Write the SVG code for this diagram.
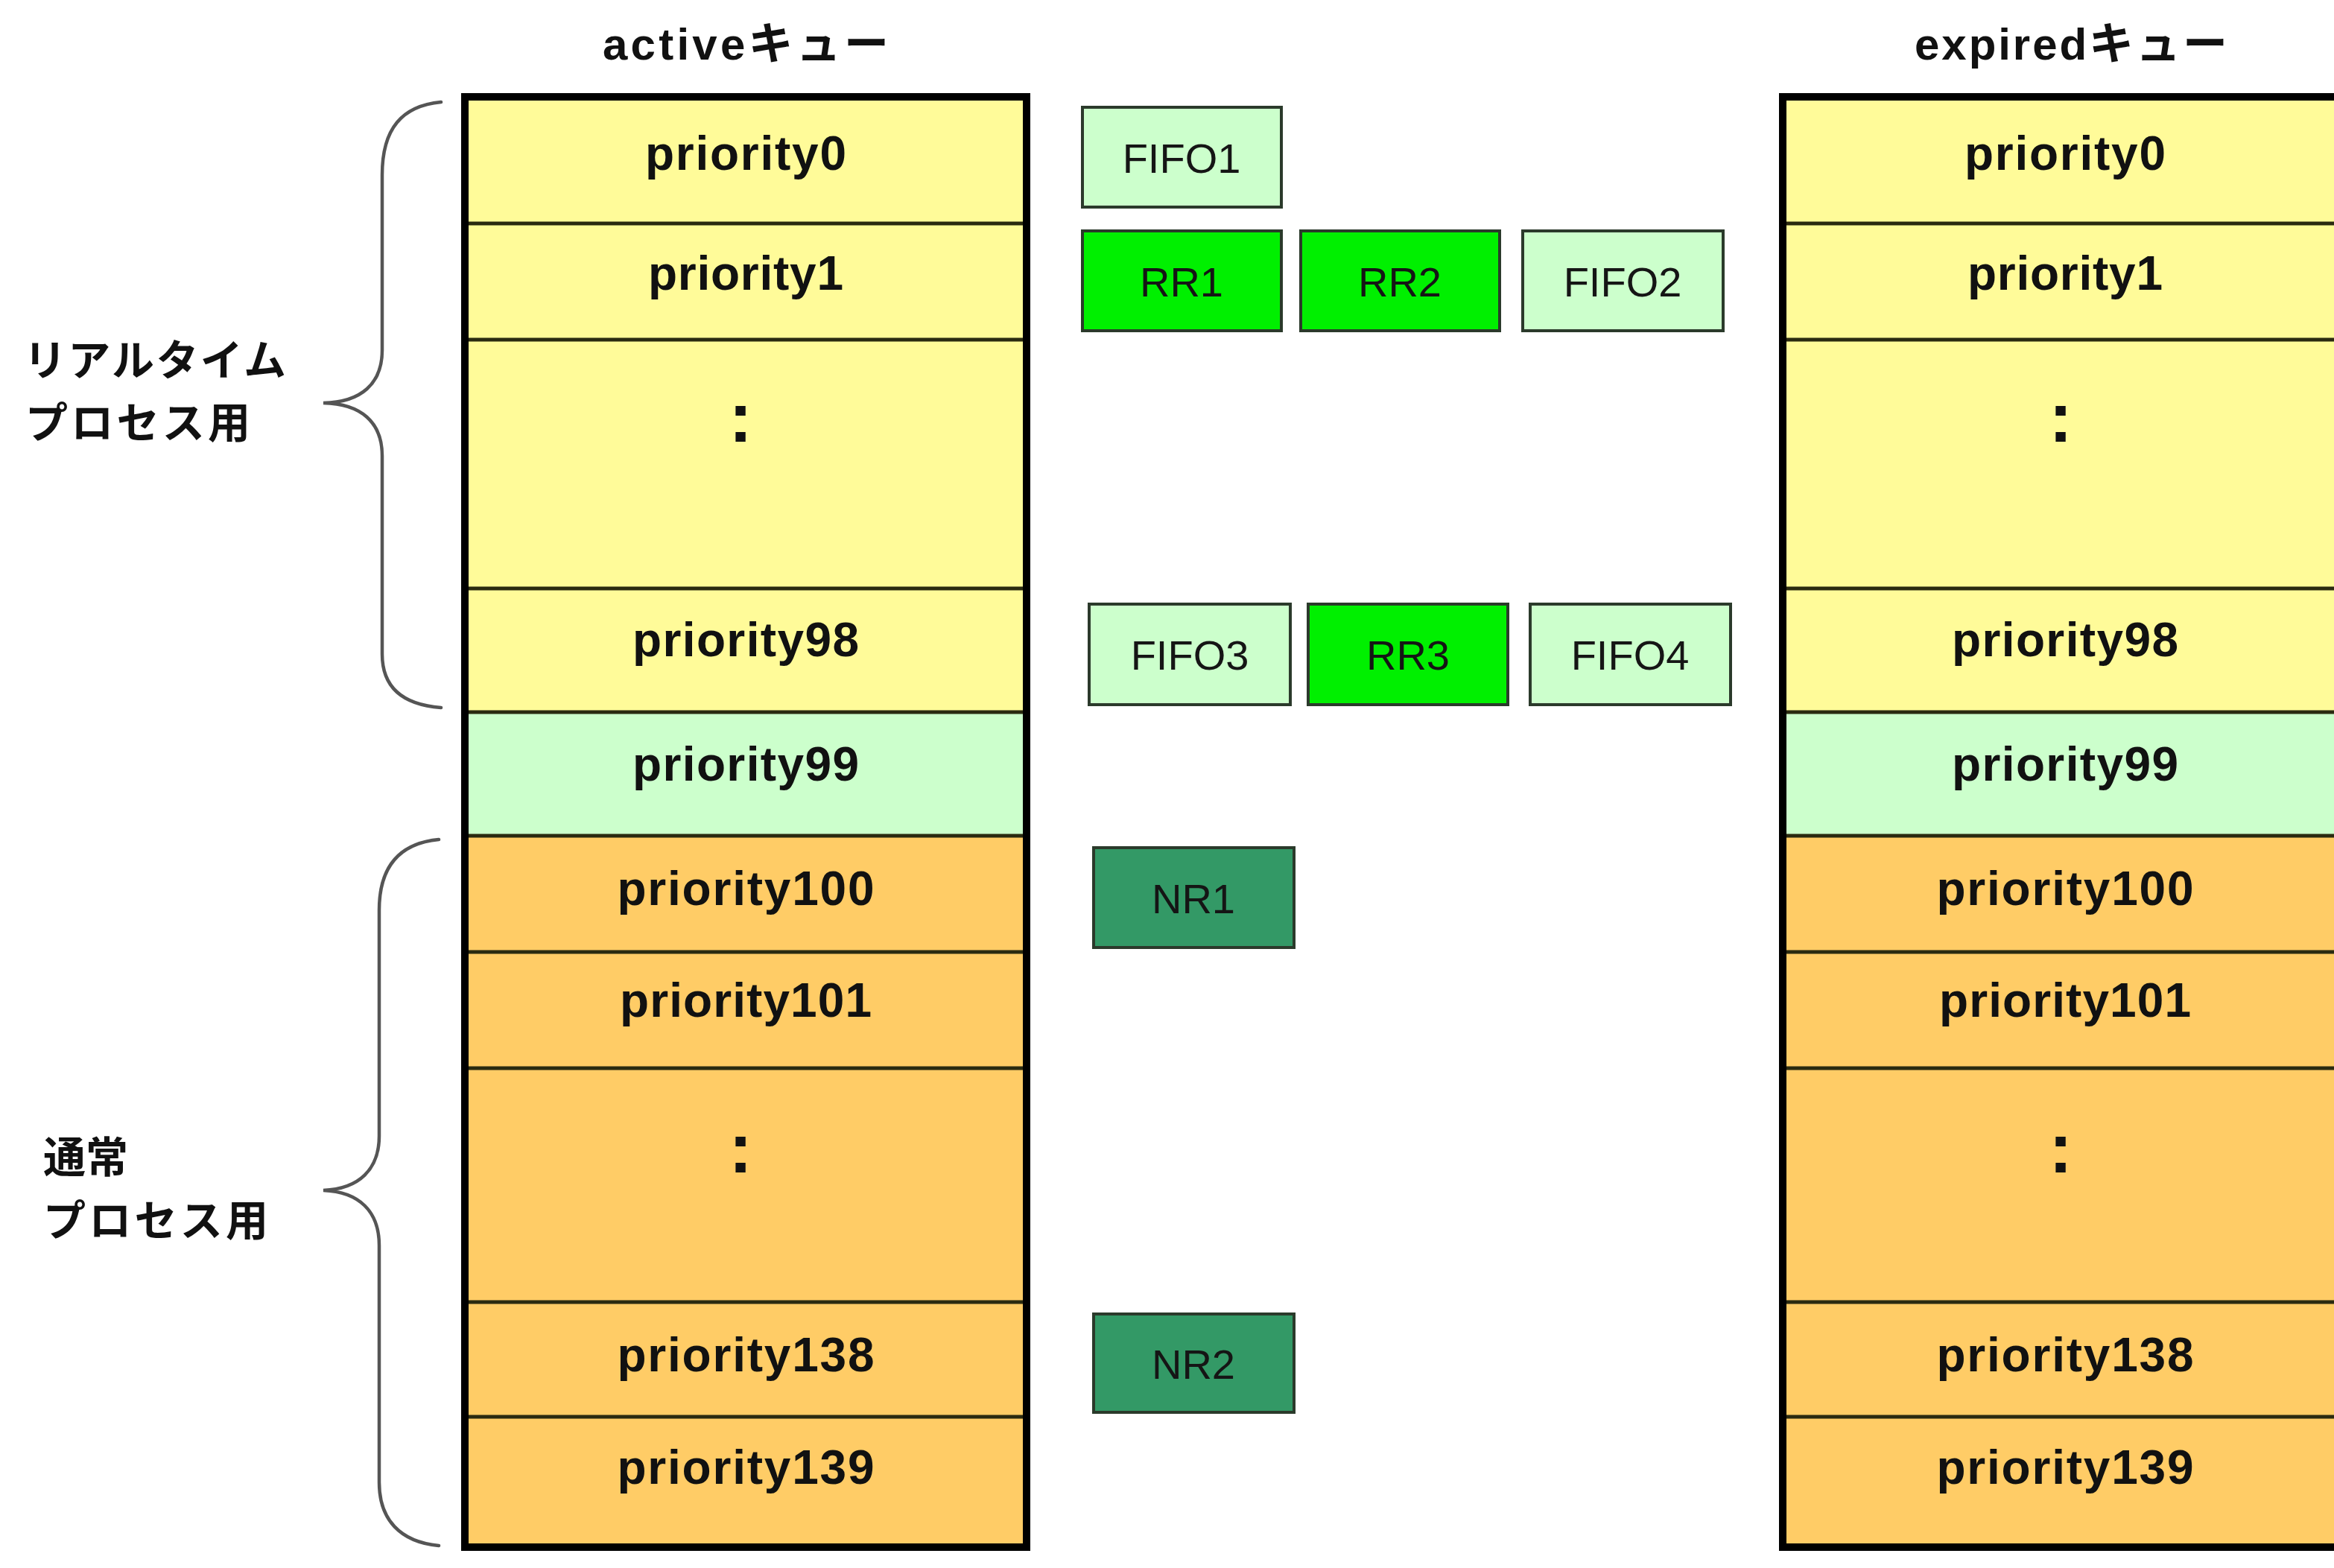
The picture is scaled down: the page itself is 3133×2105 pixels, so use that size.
<svg xmlns="http://www.w3.org/2000/svg" width="3133" height="2105" viewBox="0 0 3133 2105">
<style>
  .bg{fill:#ffffff}
  .yel{fill:#FFFB99}
  .lgr{fill:#CCFFCC}
  .org{fill:#FFCC66}
  .frame{fill:none;stroke:#000;stroke-width:10}
  .sep{stroke:#2a2a10;stroke-width:5}
  .row{font-family:"Liberation Sans","Noto Sans CJK JP",sans-serif;font-weight:bold;font-size:64px;fill:#111;text-anchor:middle}
  .dots{font-family:"Liberation Sans",sans-serif;font-weight:bold;font-size:95px;fill:#111;text-anchor:middle}
  .title{font-family:"Liberation Sans","Noto Sans CJK JP",sans-serif;font-weight:bold;font-size:60px;fill:#111;text-anchor:middle}
  .side{font-family:"Noto Sans CJK JP",sans-serif;font-weight:bold;font-size:57px;fill:#111}
  .task{stroke:#2b3a2b;stroke-width:4}
  .fifo{fill:#CCFFCC}
  .rr{fill:#00F000}
  .nr{fill:#339966}
  .tlabel{font-family:"Liberation Sans",sans-serif;font-size:56px;fill:#151515;text-anchor:middle}
  .brace{fill:none;stroke:#555;stroke-width:4.5;stroke-linecap:round}
</style>
<rect class="bg" x="0" y="0" width="3133" height="2105"/>

<g id="title-active"><text class="title" x="1001" y="80" textLength="384">activeキュー</text></g>
<g id="title-expired"><text class="title" x="2780" y="80" textLength="420">expiredキュー</text></g>

<g id="active-queue">
  <rect class="yel" x="624" y="130" width="754" height="826"/>
  <rect class="lgr" x="624" y="956" width="754" height="166"/>
  <rect class="org" x="624" y="1122" width="754" height="955"/>
  <g class="sep">
    <line x1="624" y1="300" x2="1378" y2="300"/>
    <line x1="624" y1="456" x2="1378" y2="456"/>
    <line x1="624" y1="790" x2="1378" y2="790"/>
    <line x1="624" y1="956" x2="1378" y2="956"/>
    <line x1="624" y1="1122" x2="1378" y2="1122"/>
    <line x1="624" y1="1278" x2="1378" y2="1278"/>
    <line x1="624" y1="1434" x2="1378" y2="1434"/>
    <line x1="624" y1="1748" x2="1378" y2="1748"/>
    <line x1="624" y1="1902" x2="1378" y2="1902"/>
  </g>
  <rect class="frame" x="624" y="130" width="754" height="1947"/>
  <text class="row" x="1001" y="228" textLength="270">priority0</text>
  <text class="row" x="1001" y="389" textLength="262">priority1</text>
  <text class="dots" x="994" y="593">:</text>
  <text class="row" x="1001" y="881" textLength="304">priority98</text>
  <text class="row" x="1001" y="1048" textLength="304">priority99</text>
  <text class="row" x="1001" y="1215" textLength="345">priority100</text>
  <text class="row" x="1001" y="1365" textLength="338">priority101</text>
  <text class="dots" x="994" y="1574">:</text>
  <text class="row" x="1001" y="1841" textLength="345">priority138</text>
  <text class="row" x="1001" y="1992" textLength="345">priority139</text>
</g>

<g id="expired-queue">
  <rect class="yel" x="2393" y="130" width="760" height="826"/>
  <rect class="lgr" x="2393" y="956" width="760" height="166"/>
  <rect class="org" x="2393" y="1122" width="760" height="955"/>
  <g class="sep">
    <line x1="2393" y1="300" x2="3133" y2="300"/>
    <line x1="2393" y1="456" x2="3133" y2="456"/>
    <line x1="2393" y1="790" x2="3133" y2="790"/>
    <line x1="2393" y1="956" x2="3133" y2="956"/>
    <line x1="2393" y1="1122" x2="3133" y2="1122"/>
    <line x1="2393" y1="1278" x2="3133" y2="1278"/>
    <line x1="2393" y1="1434" x2="3133" y2="1434"/>
    <line x1="2393" y1="1748" x2="3133" y2="1748"/>
    <line x1="2393" y1="1902" x2="3133" y2="1902"/>
  </g>
  <rect class="frame" x="2393" y="130" width="780" height="1947"/>
  <text class="row" x="2772" y="228" textLength="270">priority0</text>
  <text class="row" x="2772" y="389" textLength="262">priority1</text>
  <text class="dots" x="2766" y="593">:</text>
  <text class="row" x="2772" y="881" textLength="304">priority98</text>
  <text class="row" x="2772" y="1048" textLength="304">priority99</text>
  <text class="row" x="2772" y="1215" textLength="345">priority100</text>
  <text class="row" x="2772" y="1365" textLength="338">priority101</text>
  <text class="dots" x="2766" y="1574">:</text>
  <text class="row" x="2772" y="1841" textLength="345">priority138</text>
  <text class="row" x="2772" y="1992" textLength="345">priority139</text>
</g>

<g id="task-FIFO1"><rect class="task fifo" x="1453" y="144" width="267" height="134"/><text class="tlabel" x="1586" y="232">FIFO1</text></g>
<g id="task-RR1"><rect class="task rr" x="1453" y="310" width="267" height="134"/><text class="tlabel" x="1586" y="398">RR1</text></g>
<g id="task-RR2"><rect class="task rr" x="1746" y="310" width="267" height="134"/><text class="tlabel" x="1879" y="398">RR2</text></g>
<g id="task-FIFO2"><rect class="task fifo" x="2044" y="310" width="269" height="134"/><text class="tlabel" x="2178" y="398">FIFO2</text></g>
<g id="task-FIFO3"><rect class="task fifo" x="1462" y="811" width="270" height="135"/><text class="tlabel" x="1597" y="899">FIFO3</text></g>
<g id="task-RR3"><rect class="task rr" x="1756" y="811" width="268" height="135"/><text class="tlabel" x="1890" y="899">RR3</text></g>
<g id="task-FIFO4"><rect class="task fifo" x="2054" y="811" width="269" height="135"/><text class="tlabel" x="2188" y="899">FIFO4</text></g>
<g id="task-NR1"><rect class="task nr" x="1468" y="1138" width="269" height="134"/><text class="tlabel" x="1602" y="1226">NR1</text></g>
<g id="task-NR2"><rect class="task nr" x="1468" y="1764" width="269" height="132"/><text class="tlabel" x="1602" y="1851">NR2</text></g>

<g id="label-realtime">
  <text class="side" x="32" y="504" textLength="352">リアルタイム</text>
  <text class="side" x="34" y="588" textLength="302">プロセス用</text>
</g>
<g id="label-normal">
  <text class="side" x="58" y="1574">通常</text>
  <text class="side" x="58" y="1659" textLength="302">プロセス用</text>
</g>

<g id="connectors">
  <path class="brace" d="M 592 137 C 540 142 513 172 513 235 L 513 470 C 513 515 485 540 434 541 C 485 542 513 567 513 612 L 513 878 C 513 922 540 946 592 950"/>
  <path class="brace" d="M 589 1127 C 537 1132 509 1162 509 1222 L 509 1525 C 509 1570 482 1596 434 1598 C 482 1600 509 1626 509 1672 L 509 1990 C 509 2040 537 2070 589 2075"/>
</g>
</svg>
